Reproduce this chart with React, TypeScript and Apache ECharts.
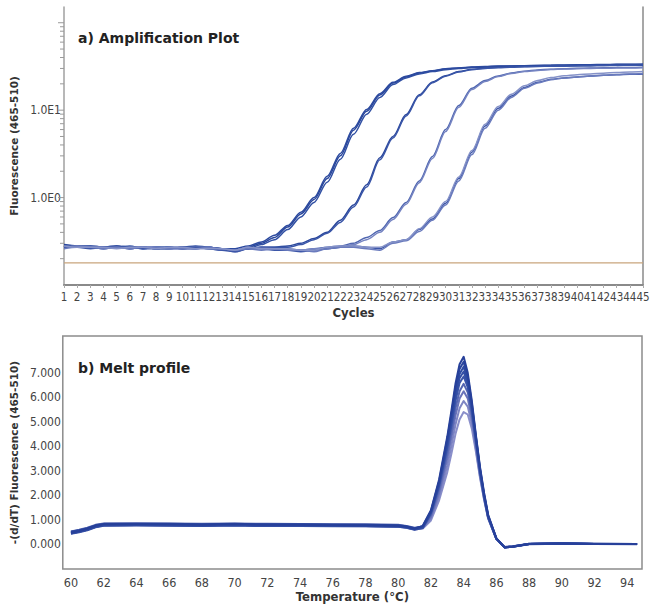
import React, { useEffect, useRef } from 'react';
import * as echarts from 'echarts';

// ---------- a) Amplification plot ----------
const CYCLES = [1,2,3,4,5,6,7,8,9,10,11,12,13,14,15,16,17,18,19,20,21,22,23,24,25,26,27,28,29,30,31,32,33,34,35,36,37,38,39,40,41,42,43,44,45];

const AMP_G1A = [0.29,0.28,0.27,0.27,0.28,0.27,0.27,0.26,0.26,0.27,0.27,0.27,0.26,0.25,0.27,0.30,0.35,0.46,0.65,0.95,1.65,3.0,5.9,9.7,14.9,20.4,24.0,26.6,28.0,29.6,30.4,31.2,31.6,31.9,32.1,32.3,32.5,32.7,32.9,33.0,33.1,33.3,33.4,33.5,33.6];
const AMP_G1B = [0.28,0.27,0.27,0.26,0.27,0.28,0.26,0.27,0.27,0.26,0.27,0.26,0.25,0.25,0.26,0.29,0.33,0.43,0.60,0.88,1.50,2.75,5.3,9.0,14.0,19.6,23.4,26.0,27.6,29.0,30.0,30.8,31.3,31.7,32.0,32.2,32.4,32.6,32.7,32.8,33.0,33.1,33.2,33.3,33.4];
const AMP_G1C = [0.27,0.28,0.28,0.27,0.27,0.26,0.27,0.27,0.26,0.27,0.28,0.27,0.26,0.26,0.28,0.31,0.37,0.48,0.68,1.0,1.75,3.2,6.2,10.2,15.4,20.8,24.4,26.9,28.3,29.8,30.4,30.9,31.2,31.4,31.6,31.8,31.9,32.0,32.1,32.2,32.3,32.4,32.5,32.6,32.6];
const AMP_G2A = [0.28,0.27,0.27,0.27,0.28,0.26,0.27,0.26,0.27,0.27,0.26,0.27,0.26,0.25,0.26,0.27,0.27,0.28,0.30,0.34,0.40,0.55,0.82,1.40,2.85,5.0,8.9,15.0,21.0,24.8,27.6,29.3,30.3,30.9,31.3,31.6,31.9,32.1,32.3,32.5,32.6,32.8,32.9,33.0,33.1];
const AMP_G2B = [0.27,0.27,0.28,0.27,0.27,0.27,0.26,0.27,0.27,0.26,0.26,0.27,0.25,0.25,0.26,0.27,0.27,0.27,0.29,0.33,0.39,0.52,0.78,1.32,2.7,4.8,8.6,14.6,20.6,24.5,27.3,29.0,30.0,30.6,31.0,31.3,31.6,31.8,32.0,32.2,32.3,32.5,32.6,32.7,32.8];
const AMP_G3A = [0.28,0.27,0.27,0.26,0.27,0.27,0.27,0.26,0.26,0.27,0.27,0.26,0.26,0.24,0.26,0.27,0.26,0.26,0.25,0.26,0.27,0.28,0.30,0.35,0.42,0.59,0.88,1.55,2.95,6.0,11.3,17.8,21.8,24.6,26.6,27.9,28.8,29.4,29.8,30.1,30.3,30.5,30.7,30.8,30.9];
const AMP_G3B = [0.27,0.28,0.27,0.27,0.27,0.26,0.27,0.27,0.26,0.26,0.27,0.27,0.25,0.25,0.27,0.26,0.26,0.25,0.25,0.26,0.26,0.27,0.29,0.33,0.40,0.56,0.84,1.48,2.8,5.7,10.8,17.2,21.3,24.2,26.3,27.6,28.5,29.1,29.5,29.8,30.0,30.2,30.3,30.4,30.5];
const AMP_G4A = [0.27,0.27,0.26,0.27,0.27,0.27,0.26,0.26,0.27,0.26,0.27,0.26,0.25,0.24,0.26,0.26,0.25,0.25,0.24,0.25,0.26,0.27,0.28,0.27,0.26,0.31,0.33,0.43,0.57,0.86,1.65,3.3,6.6,10.5,14.5,18.2,20.8,22.5,23.4,24.0,24.6,25.0,25.4,25.7,26.0];
const AMP_G4B = [0.26,0.27,0.27,0.26,0.27,0.26,0.27,0.27,0.26,0.26,0.26,0.27,0.26,0.25,0.26,0.25,0.26,0.25,0.25,0.24,0.26,0.27,0.27,0.26,0.25,0.30,0.32,0.41,0.55,0.82,1.55,3.1,6.2,10.0,14.0,17.8,20.5,22.3,23.3,24.0,24.6,25.1,25.5,25.9,26.3];
const AMP_G4C = [0.28,0.27,0.27,0.27,0.26,0.27,0.27,0.26,0.27,0.27,0.26,0.26,0.26,0.25,0.27,0.26,0.26,0.26,0.25,0.25,0.27,0.28,0.28,0.27,0.27,0.31,0.33,0.44,0.60,0.90,1.72,3.45,6.9,11.0,15.2,19.0,21.8,23.6,24.7,25.4,26.0,26.5,26.9,27.3,27.6];

const AMP_SERIES = [AMP_G1A, AMP_G1B, AMP_G1C, AMP_G2A, AMP_G2B, AMP_G3A, AMP_G3B, AMP_G4A, AMP_G4B, AMP_G4C];
const AMP_COLORS = ['#2a479c', '#3150a3', '#2c4a9f', '#2b489d', '#3a56a8', '#4f66b0', '#7584c2', '#3c56a8', '#6a7bbd', '#8592c8'];
const THRESHOLD = 0.179;
const LOG_TICKS = [0.2,0.3,0.4,0.5,0.6,0.7,0.8,0.9,1,2,3,4,5,6,7,8,9,10,20,30,40,50,60,70,80,90,100];
const LOG_MIN = -1;
const LOG_MAX = 2.18;

// ---------- b) Melt profile ----------
const TEMPS = [60,60.5,61,61.5,62,64,66,68,70,72,74,76,78,80,80.5,81,81.5,82,82.5,83,83.25,83.5,83.75,84,84.25,84.5,84.75,85,85.25,85.5,86,86.5,87,88,90,92,94.6];

const MELT_1 = [0.48,0.55,0.64,0.76,0.82,0.83,0.82,0.80,0.83,0.80,0.80,0.79,0.78,0.76,0.72,0.64,0.76,1.4,2.65,4.4,5.45,6.55,7.35,7.65,7.0,5.85,4.45,3.15,2.1,1.2,0.25,-0.12,-0.09,0.02,0.04,0.02,0.02];
const MELT_2 = [0.52,0.58,0.66,0.78,0.84,0.85,0.84,0.82,0.84,0.82,0.82,0.81,0.80,0.78,0.74,0.66,0.74,1.36,2.58,4.3,5.3,6.4,7.15,7.45,6.85,5.75,4.4,3.1,2.05,1.18,0.25,-0.11,-0.08,0.03,0.05,0.03,0.02];
const MELT_3 = [0.45,0.52,0.60,0.72,0.78,0.79,0.78,0.76,0.79,0.77,0.77,0.76,0.75,0.73,0.70,0.62,0.70,1.32,2.5,4.18,5.15,6.2,6.95,7.25,6.7,5.65,4.35,3.05,2.0,1.15,0.24,-0.12,-0.09,0.02,0.04,0.02,0.02];
const MELT_4 = [0.50,0.56,0.63,0.74,0.80,0.81,0.80,0.78,0.80,0.78,0.78,0.77,0.77,0.75,0.71,0.63,0.70,1.3,2.44,4.06,5.0,6.02,6.78,7.05,6.55,5.55,4.28,3.0,1.98,1.12,0.24,-0.11,-0.08,0.02,0.04,0.02,0.02];
const MELT_5 = [0.44,0.50,0.58,0.70,0.76,0.77,0.76,0.75,0.77,0.75,0.75,0.74,0.74,0.72,0.68,0.60,0.67,1.26,2.38,3.94,4.85,5.85,6.58,6.85,6.4,5.45,4.2,2.95,1.95,1.1,0.23,-0.12,-0.09,0.01,0.03,0.02,0.01];
const MELT_6 = [0.53,0.60,0.68,0.80,0.86,0.87,0.86,0.84,0.86,0.84,0.83,0.82,0.82,0.80,0.75,0.68,0.72,1.2,2.25,3.72,4.6,5.55,6.25,6.55,6.2,5.3,4.12,2.9,1.92,1.1,0.23,-0.10,-0.07,0.03,0.05,0.03,0.02];
const MELT_7 = [0.47,0.53,0.61,0.72,0.78,0.79,0.78,0.77,0.79,0.77,0.76,0.76,0.75,0.73,0.69,0.62,0.67,1.12,2.1,3.5,4.35,5.25,5.95,6.25,5.95,5.15,4.02,2.85,1.88,1.08,0.22,-0.11,-0.08,0.02,0.04,0.02,0.02];
const MELT_8 = [0.51,0.57,0.64,0.75,0.81,0.82,0.81,0.79,0.81,0.79,0.79,0.78,0.78,0.76,0.72,0.64,0.68,1.05,1.95,3.22,4.02,4.88,5.55,5.85,5.62,4.92,3.88,2.78,1.85,1.06,0.22,-0.10,-0.08,0.02,0.04,0.02,0.02];
const MELT_9 = [0.46,0.52,0.60,0.71,0.77,0.78,0.77,0.76,0.78,0.76,0.76,0.75,0.74,0.72,0.68,0.61,0.65,0.98,1.8,2.95,3.7,4.5,5.1,5.4,5.3,4.72,3.78,2.72,1.82,1.05,0.22,-0.11,-0.08,0.02,0.04,0.02,0.02];

const MELT_SERIES = [MELT_9, MELT_8, MELT_7, MELT_6, MELT_5, MELT_4, MELT_3, MELT_2, MELT_1];
const MELT_COLORS = ['#8a8fca', '#7f86c4', '#6a74ba', '#5566b2', '#3c55a9', '#344fa6', '#2f4ba2', '#2b469e', '#27409a'];

const NARROW = "'Liberation Sans Narrow', 'DejaVu Sans Condensed', 'Liberation Sans', sans-serif";
const BOLD_FONT = "'DejaVu Sans', sans-serif";

export default function App() {
  const ref = useRef<HTMLDivElement>(null);

  useEffect(() => {
    if (!ref.current) return;
    const chart = echarts.init(ref.current, undefined, { renderer: 'svg' });

    const ampSeries: any[] = AMP_SERIES.map((vals, k) => ({
      type: 'line',
      xAxisIndex: 0,
      yAxisIndex: 0,
      data: CYCLES.map((c, i) => [c, Math.log10(vals[i])]),
      showSymbol: false,
      smooth: 0.3,
      smoothMonotone: 'x',
      lineStyle: { width: 1.5, color: AMP_COLORS[k] },
      itemStyle: { color: AMP_COLORS[k] },
      silent: true,
      z: 3,
    }));

    const thresholdSeries = {
      type: 'line',
      xAxisIndex: 0,
      yAxisIndex: 0,
      data: [[CYCLES[0], Math.log10(THRESHOLD)], [CYCLES[CYCLES.length - 1], Math.log10(THRESHOLD)]],
      showSymbol: false,
      lineStyle: { width: 1.2, color: '#c9a57c' },
      silent: true,
      z: 2,
    };

    const tickSeries = {
      type: 'custom',
      xAxisIndex: 0,
      yAxisIndex: 0,
      clip: false,
      silent: true,
      data: LOG_TICKS.map((v) => [CYCLES[0], Math.log10(v)]),
      renderItem: (params: any, api: any) => {
        const p = api.coord([api.value(0), api.value(1)]);
        const v = api.value(1);
        const major = Math.abs(v - Math.round(v)) < 1e-6;
        return {
          type: 'line',
          shape: { x1: p[0] - (major ? 6 : 4), y1: p[1], x2: p[0], y2: p[1] },
          style: { stroke: '#9a9a9a', lineWidth: 1 },
        };
      },
      z: 5,
    };

    const meltSeries: any[] = MELT_SERIES.map((vals, k) => ({
      type: 'line',
      xAxisIndex: 1,
      yAxisIndex: 2,
      data: TEMPS.map((t, i) => [t, vals[i]]),
      showSymbol: false,
      smooth: false,
      lineStyle: { width: 2, color: MELT_COLORS[k], join: 'round' },
      itemStyle: { color: MELT_COLORS[k] },
      silent: true,
    }));

    chart.setOption({
      animation: false,
      backgroundColor: '#ffffff',
      title: [
        {
          text: 'a) Amplification Plot',
          left: 73,
          top: 26,
          textStyle: { fontFamily: BOLD_FONT, fontWeight: 'bold', fontSize: 14, color: '#222' },
        },
        {
          text: 'b) Melt profile',
          left: 73,
          top: 356,
          textStyle: { fontFamily: BOLD_FONT, fontWeight: 'bold', fontSize: 14, color: '#222' },
        },
      ],
      grid: [
        { left: 64, right: 18, top: 7, bottom: 321, show: false },
        { left: 57, right: 19, top: 336, bottom: 37, show: true, borderColor: '#8c8c8c', borderWidth: 1.5, backgroundColor: 'transparent' },
      ],
      xAxis: [
        {
          type: 'value',
          gridIndex: 0,
          min: 1,
          max: 45,
          interval: 1,
          name: 'Cycles',
          nameLocation: 'middle',
          nameGap: 21,
          nameTextStyle: { fontFamily: NARROW, fontWeight: 'bold', fontSize: 13, color: '#333' },
          axisLine: { show: true, onZero: false, lineStyle: { color: '#8a8a8a', width: 2 } },
          axisTick: { show: true, length: 3, lineStyle: { color: '#aaa' } },
          axisLabel: { fontFamily: NARROW, fontSize: 11.5, color: '#444', margin: 6, showMinLabel: true, showMaxLabel: true, hideOverlap: false },
          splitLine: { show: false },
        },
        {
          type: 'value',
          gridIndex: 1,
          min: 59.5,
          max: 94.9,
          interval: 0.5,
          name: 'Temperature (°C)',
          nameLocation: 'middle',
          nameGap: 21,
          nameTextStyle: { fontFamily: NARROW, fontWeight: 'bold', fontSize: 13, color: '#333' },
          axisLine: { show: false, onZero: false },
          axisTick: { show: false },
          axisLabel: {
            fontFamily: NARROW,
            fontSize: 12.5,
            color: '#444',
            margin: 7,
            formatter: (v: number) => (Math.abs(v % 2) < 1e-9 ? String(v) : ''),
          },
          splitLine: { show: false },
        },
      ],
      yAxis: [
        {
          type: 'value',
          gridIndex: 0,
          min: LOG_MIN,
          max: LOG_MAX,
          interval: 1,
          name: 'Fluorescence (465-510)',
          nameLocation: 'middle',
          nameGap: 40,
          nameTextStyle: { fontFamily: BOLD_FONT, fontWeight: 'bold', fontSize: 10.5, color: '#333' },
          axisLine: { show: true, onZero: false, lineStyle: { color: '#a0a0a0', width: 1.5 } },
          axisTick: { show: false },
          axisLabel: {
            fontFamily: NARROW,
            fontSize: 12,
            color: '#444',
            margin: 3,
            showMaxLabel: false,
            formatter: (v: number) => (Math.abs(v) < 1e-9 ? '1.0E0' : Math.abs(v - 1) < 1e-9 ? '1.0E1' : ''),
          },
          splitLine: { show: false },
        },
        {
          type: 'value',
          gridIndex: 0,
          position: 'right',
          min: LOG_MIN,
          max: LOG_MAX,
          interval: 1,
          axisLine: { show: true, onZero: false, lineStyle: { color: '#8a8a8a', width: 1.5 } },
          axisTick: { show: false },
          axisLabel: { show: false },
          splitLine: { show: false },
        },
        {
          type: 'value',
          gridIndex: 1,
          min: -1,
          max: 8.5,
          interval: 1,
          name: '-(d/dT) Fluorescence (465-510)',
          nameLocation: 'middle',
          nameGap: 31,
          nameTextStyle: { fontFamily: BOLD_FONT, fontWeight: 'bold', fontSize: 10.5, color: '#333' },
          axisLine: { show: false, onZero: false },
          axisTick: { show: false },
          axisLabel: {
            fontFamily: NARROW,
            fontSize: 12,
            color: '#444',
            margin: 2,
            showMaxLabel: false,
            formatter: (v: number) => (v >= -1e-9 && v <= 7 + 1e-9 ? v.toFixed(3) : ''),
          },
          splitLine: { show: false },
        },
      ],
      series: [thresholdSeries, ...ampSeries, tickSeries, ...meltSeries],
    });

    return () => chart.dispose();
  }, []);

  return (
    <div
      ref={ref}
      style={{ position: 'absolute', left: 0, top: 0, width: 661, height: 606, background: '#fff' }}
    />
  );
}
